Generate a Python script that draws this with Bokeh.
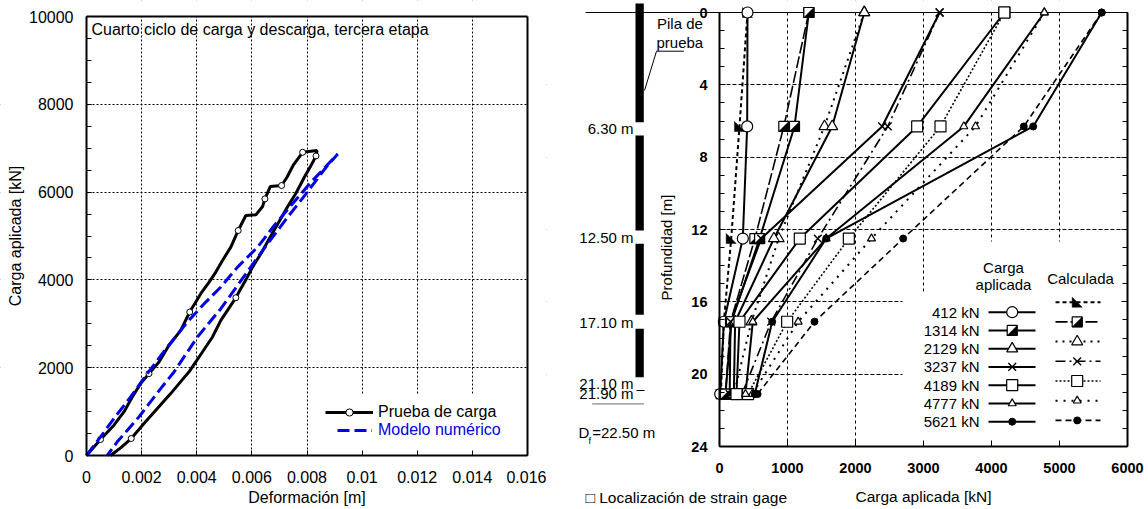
import math
from bokeh.plotting import figure
from bokeh.layouts import row
from bokeh.models import (Range1d, LinearAxis, FixedTicker, Grid, Legend, LegendItem,
                          NumeralTickFormatter)
from bokeh.core.properties import value
from bokeh.embed import file_html
from bokeh.resources import INLINE

FONT = "Liberation Sans"

# ---------------- left panel data ----------------
prueba_def = [0, 0.000509, 0.000994, 0.001358, 0.001661, 0.001964, 0.002267, 0.00263, 0.002994, 0.003418,
              0.003745, 0.004145, 0.004448, 0.004691, 0.004933, 0.005236, 0.005503, 0.005782, 0.006145,
              0.006388, 0.006473, 0.006667, 0.007079, 0.007273, 0.007515, 0.007842, 0.008364, 0.008327,
              0.008145, 0.007903, 0.0076, 0.007321, 0.006994, 0.00663, 0.006327, 0.006024, 0.005782,
              0.005576, 0.005418, 0.005115, 0.004873, 0.00457, 0.004206, 0.003842, 0.003745, 0.003479,
              0.003055, 0.00257, 0.002085, 0.001624, 0.001236, 0.000933, 0.000873]
prueba_carga = [0, 364, 690, 993, 1334, 1638, 1865, 2131, 2510, 2851,
                3268, 3685, 3950, 4178, 4443, 4746, 5125, 5467, 5482,
                5671, 5846, 6126, 6149, 6339, 6627, 6907, 6945, 6824,
                6604, 6339, 5975, 5694, 5338, 4936, 4595, 4291, 4003,
                3776, 3594, 3306, 3078, 2699, 2358, 2017, 1926, 1729,
                1410, 1069, 728, 387, 174, 30, 0]
prueba_marker_idx = [1, 6, 10, 16, 20, 22, 25, 27, 38, 49]

modelo_def = [0, 0.000509, 0.000994, 0.0016, 0.002206, 0.002933, 0.003661, 0.004327, 0.004873,
              0.005479, 0.006206, 0.006812, 0.007418, 0.008145, 0.009115,
              0.008691, 0.008327, 0.007964, 0.007297, 0.00657, 0.005782, 0.004873, 0.004024,
              0.003176, 0.002691, 0.001903, 0.001539, 0.001115, 0.000752]
modelo_carga = [0, 425, 842, 1334, 1865, 2472, 3040, 3495, 3837,
                4291, 4746, 5239, 5694, 6225, 6869,
                6566, 6263, 5959, 5429, 4822, 4140, 3344, 2699,
                1903, 1524, 880, 614, 311, 0]

left_x_ticks = [0, 0.002, 0.004, 0.006, 0.008, 0.01, 0.012, 0.014, 0.016]
left_y_ticks = [0, 2000, 4000, 6000, 8000, 10000]

# ---------------- right panel data ----------------
depths = [0, 6.3, 12.5, 17.1, 21.1]
load_labels = ["412 kN", "1314 kN", "2129 kN", "3237 kN", "4189 kN", "4777 kN", "5621 kN"]
meas_412 = [412, 407, 343, 64, 10]
meas_1314 = [1314, 1103, 590, 176, 88]
meas_2129 = [2129, 1657, 800, 230, 211]
meas_3237 = [3237, 2392, 613, 162, 150]
meas_4189 = [4189, 2907, 1181, 294, 250]
meas_4777 = [4777, 3593, 1569, 490, 382]
meas_5621 = [5621, 4613, 1569, 775, 519]
calc_412 = [412, 294, 172, 64, 20]
calc_1314 = [1314, 946, 520, 162, 88]
calc_2129 = [2129, 1544, 870, 470, 211]
calc_3237 = [3237, 2475, 1446, 760, 330]
calc_4189 = [4189, 3250, 1902, 995, 420]
calc_4777 = [4777, 3765, 2235, 1157, 480]
calc_5621 = [5621, 4475, 2701, 1397, 560]
measured = [meas_412, meas_1314, meas_2129, meas_3237, meas_4189, meas_4777, meas_5621]
calculated = [calc_412, calc_1314, calc_2129, calc_3237, calc_4189, calc_4777, calc_5621]

right_x_ticks = [0, 1000, 2000, 3000, 4000, 5000, 6000]
right_y_ticks = [0, 4, 8, 12, 16, 20, 24]

gauge_labels = ["6.30 m", "12.50 m", "17.10 m", "21.10 m", "21.90 m"]

# ---------------- styles ----------------
meas_kind = ["circle", "half", "tri", "x", "square", "tri_s", "dot"]
calc_kind = ["lowtri", "half", "tri", "x", "square", "tri_s", "dot"]
calc_dash = ["4 3", "12 3", "2 5", "10 4 2 4", "2 2", "2 6", "6 4"]
calc_width = [2, 1.6, 2, 1.6, 1.6, 2, 1.6]

CANVAS_H = 509
LEFT_W = 546
RIGHT_W = 1148 - LEFT_W

# ======================= LEFT FIGURE (frame = whole canvas) =======================
L_PXX = 441 / 0.016          # px per metre of deformation
L_PXY = 439 / 10000.0        # px per kN
L_X0 = 86                    # px of x = 0
L_Y0 = 455                   # px of y = 0


def lx(px):
    return (px - L_X0) / L_PXX


def ly(py):
    return (L_Y0 - py) / L_PXY


l_xlo, l_xhi = lx(0), lx(LEFT_W)
l_ylo, l_yhi = ly(CANVAS_H), ly(0)

pl = figure(width=LEFT_W, height=CANVAS_H, x_range=Range1d(l_xlo, l_xhi), y_range=Range1d(l_ylo, l_yhi),
            output_backend="svg", toolbar_location=None, x_axis_type=None, y_axis_type=None,
            min_border_left=0, min_border_right=0, min_border_top=0, min_border_bottom=0)
pl.outline_line_color = None

lxa = LinearAxis(ticker=FixedTicker(ticks=left_x_ticks),
                 formatter=NumeralTickFormatter(format="0.[000]"),
                 axis_label="Deformación [m]", fixed_location=0, bounds=(0, 0.016))
lya = LinearAxis(ticker=FixedTicker(ticks=left_y_ticks, minor_ticks=list(range(0, 10001, 500))),
                 axis_label="Carga aplicada [kN]", bounds=(0, 10000), fixed_location=0)
lya2 = LinearAxis(ticker=FixedTicker(ticks=[]), bounds=(0, 10000), fixed_location=0.016)
lxa2 = LinearAxis(ticker=FixedTicker(ticks=[]), bounds=(0, 0.016), fixed_location=10000)
for ax in (lxa, lya, lya2, lxa2):
    ax.axis_line_width = 2
    ax.major_tick_in = 5
    ax.major_tick_out = 0
    ax.minor_tick_in = 5
    ax.minor_tick_out = 0
    ax.major_label_text_font = FONT
    ax.major_label_text_font_size = "16px"
    ax.major_label_text_color = "black"
    ax.axis_label_text_font = FONT
    ax.axis_label_text_font_size = "16px"
    ax.axis_label_text_font_style = "normal"
    ax.axis_label_text_color = "black"
for ax in (lya2, lxa2):
    ax.major_label_text_color = None
    ax.major_label_standoff = 0
lxa.major_label_standoff = 15
lxa.axis_label_standoff = 3
lya.major_label_standoff = 13
lya.axis_label_standoff = 2
pl.add_layout(lxa, "below")
pl.add_layout(lya, "left")
pl.add_layout(lya2, "right")
pl.add_layout(lxa2, "above")

pl.add_layout(Grid(dimension=0, ticker=FixedTicker(ticks=left_x_ticks[1:-1]),
                   grid_line_color="black", grid_line_dash="2 2", grid_line_width=1))
pl.add_layout(Grid(dimension=1, ticker=FixedTicker(ticks=left_y_ticks[1:-1]),
                   grid_line_color="black", grid_line_dash="2 2", grid_line_width=1))

# white covers outside the 0..0.016 x 0..10000 box, and behind the legend
pl.quad(left=[l_xlo, 0.016, 0, 0, 0.0086], right=[0, l_xhi, 0.016, 0.016, 0.01594],
        bottom=[l_ylo, l_ylo, 10000, l_ylo, 0], top=[l_yhi, l_yhi, l_yhi, 0, 1400],
        fill_color="white", line_color=None)

r_black = pl.line(prueba_def, prueba_carga, line_color="black", line_width=3)
r_mk = pl.scatter([prueba_def[i] for i in prueba_marker_idx], [prueba_carga[i] for i in prueba_marker_idx],
                  marker="circle", size=6, fill_color="white", line_color="black", line_width=1)
r_blue = pl.line(modelo_def, modelo_carga, line_color="#0000e6", line_width=3, line_dash="12 5")

lg1 = Legend(items=[LegendItem(label="Prueba de carga", renderers=[r_black, r_mk])],
             location=(325, CANVAS_H - 420.7), glyph_width=48, glyph_height=18, label_height=18,
             label_standoff=5, padding=0, margin=0, spacing=0,
             border_line_alpha=0, background_fill_alpha=0,
             label_text_font=FONT, label_text_font_size="16px", label_text_color="black")
lg2 = Legend(items=[LegendItem(label="Modelo numérico", renderers=[r_blue])],
             location=(337, CANVAS_H - 439.3), glyph_width=35, glyph_height=18, label_height=18,
             label_standoff=6, padding=0, margin=0, spacing=0,
             border_line_alpha=0, background_fill_alpha=0,
             label_text_font=FONT, label_text_font_size="16px", label_text_color="#0000e6")
pl.add_layout(lg1)
pl.add_layout(lg2)

pl.text(x=[lx(91)], y=[ly(29)],
        text=["Cuarto ciclo de carga y descarga, tercera etapa"],
        text_font=value(FONT), text_font_size="16px", text_baseline="middle", text_align="left",
        text_color="black")

# ======================= RIGHT FIGURE (frame = whole canvas) =======================
PX_PER_KN = (1127 - 719) / 6000.0
PX_PER_M = (446 - 12) / 24.0
X0_PX = 719
Y0_PX = 12


def dx(px):
    return (px - X0_PX) / PX_PER_KN


def dy(py):
    return (py - Y0_PX) / PX_PER_M


x_lo, x_hi = dx(LEFT_W), dx(1148)
y_top, y_bot = dy(0), dy(CANVAS_H)
pr = figure(width=RIGHT_W, height=CANVAS_H, x_range=Range1d(x_lo, x_hi), y_range=Range1d(y_bot, y_top),
            output_backend="svg", toolbar_location=None, x_axis_type=None, y_axis_type=None,
            min_border_left=0, min_border_right=0, min_border_top=0, min_border_bottom=0)
pr.outline_line_color = None

rxa = LinearAxis(ticker=FixedTicker(ticks=right_x_ticks), bounds=(0, 6000), fixed_location=24,
                 axis_label="Carga aplicada [kN]")
rya = LinearAxis(ticker=FixedTicker(ticks=right_y_ticks, minor_ticks=list(range(25))),
                 bounds=(0, 24), fixed_location=0)
rya2 = LinearAxis(ticker=FixedTicker(ticks=right_y_ticks, minor_ticks=list(range(25))),
                  bounds=(0, 24), fixed_location=6000)
for ax in (rxa, rya, rya2):
    ax.axis_line_width = 2
    ax.major_tick_in = 6
    ax.major_tick_out = 0
    ax.minor_tick_in = 5
    ax.minor_tick_out = 0
    ax.major_label_text_font = FONT
    ax.major_label_text_font_size = "14.5px"
    ax.major_label_text_font_style = "bold"
    ax.major_label_text_color = "black"
    ax.axis_label_text_font = FONT
    ax.axis_label_text_font_size = "15.5px"
    ax.axis_label_text_font_style = "normal"
    ax.axis_label_text_color = "black"
rxa.minor_tick_in = 0
rxa.major_label_standoff = 16
rxa.axis_label_standoff = 12
rya.major_label_standoff = 12
rya2.major_label_text_color = None
rya2.major_label_standoff = 0
pr.add_layout(rxa, "below")
pr.add_layout(rya, "left")
pr.add_layout(rya2, "right")

pr.add_layout(Grid(dimension=0, ticker=FixedTicker(ticks=right_x_ticks[1:-1]),
                   grid_line_color="black", grid_line_dash="3 3", grid_line_width=1))
pr.add_layout(Grid(dimension=1, ticker=FixedTicker(ticks=right_y_ticks[1:-1]),
                   grid_line_color="black", grid_line_dash="4 2", grid_line_width=1))

# white covers: pile area, margins around the box, legend boxes
pr.quad(left=[x_lo, 6000, 0, 0, dx(902), dx(924)], right=[0, x_hi, 6000, 6000, 5990, 5990],
        top=[y_top, y_top, y_top, 24, dy(291), dy(241)], bottom=[y_bot, y_bot, 0, y_bot, 23.95, 23.95],
        fill_color="white", line_color=None)

# ground line
pr.line([dx(585), 6000], [0, 0], line_color="black", line_width=1.2)

# pile schematic
pr.quad(left=dx(635), right=dx(643.3), top=[dy(3), dy(135), dy(243.3), dy(328.3)],
        bottom=[dy(121.7), dy(230), dy(314.3), dy(376.7)], fill_color="black", line_color=None)
pr.line([dx(636), dx(644)], [dy(390), dy(390)], line_color="black", line_width=1)
pr.line([dx(591.7), dx(643.3)], [dy(403.3), dy(403.3)], line_color="#888888", line_width=1.2)
pr.line([dx(683.3), dx(656), dx(644)], [dy(50.7), dy(50.7), dy(90)], line_color="black", line_width=1)

pr.text(x=[dx(633)] * 5, y=[dy(128.3), dy(237.3), dy(321.7), dy(383.3), dy(393.3)], text=gauge_labels,
        text_font=value(FONT), text_font_size="15px", text_align="right", text_baseline="middle",
        text_color="black")
pr.text(x=[dx(578)], y=[dy(431.7)], text=["D"], text_font=value(FONT), text_font_size="15px",
        text_align="left", text_baseline="middle", text_color="black")
pr.text(x=[dx(588)], y=[dy(440)], text=["f"], text_font=value(FONT), text_font_size="9px",
        text_align="left", text_baseline="middle", text_color="black")
pr.text(x=[dx(591.7)], y=[dy(431.7)], text=["=22.50 m"], text_font=value(FONT), text_font_size="15px",
        text_align="left", text_baseline="middle", text_color="black")
pr.text(x=[dx(656.5), dx(656)], y=[dy(23.3), dy(41.7)], text=["Pila de", "prueba"],
        text_font=value(FONT), text_font_size="15px", text_align="left", text_baseline="middle",
        text_color="black")
pr.text(x=[dx(666)], y=[dy(247)], text=["Profundidad [m]"], angle=math.pi / 2,
        text_font=value(FONT), text_font_size="15px", text_align="center", text_baseline="middle",
        text_color="black")
pr.text(x=[dx(585)], y=[dy(496.7)], text=["\u25A1 Localización de strain gage"],
        text_font=value(FONT), text_font_size="15.5px", text_align="left", text_baseline="middle",
        text_color="black")

HX = 5 / PX_PER_KN   # half marker width in data units
HY = 5 / PX_PER_M    # half marker height in data units


def put_marker(p, xs, ys, kind):
    if kind == "circle":
        p.scatter(xs, ys, marker="circle", size=11, fill_color="white", line_color="black", line_width=1.2)
    elif kind == "tri":
        p.scatter(xs, ys, marker="triangle", size=11, fill_color="white", line_color="black", line_width=1.2)
    elif kind == "tri_s":
        p.scatter(xs, ys, marker="triangle", size=8, fill_color="white", line_color="black", line_width=1.2)
    elif kind == "x":
        p.scatter(xs, ys, marker="x", size=11, line_color="black", line_width=1.4)
    elif kind == "square":
        p.scatter(xs, ys, marker="square", size=11, fill_color="white", line_color="black", line_width=1.2)
    elif kind == "dot":
        p.scatter(xs, ys, marker="circle", size=7, fill_color="black", line_color="black")
    elif kind == "half":
        p.scatter(xs, ys, marker="square", size=10, fill_color="white", line_color="black", line_width=1.2)
        p.patches(xs=[[x + HX, x + HX, x - HX] for x in xs], ys=[[y - HY, y + HY, y + HY] for y in ys],
                  fill_color="black", line_color="black", line_width=0.5)
    elif kind == "lowtri":
        p.patches(xs=[[x - HX, x - HX, x + HX] for x in xs], ys=[[y - HY, y + HY, y + HY] for y in ys],
                  fill_color="black", line_color="black", line_width=0.5)


# series lines
for i in range(7):
    pr.line(calculated[i], depths, line_color="black", line_width=calc_width[i], line_dash=calc_dash[i])
for i in range(7):
    pr.line(measured[i], depths, line_color="black", line_width=2)
for i in range(7):
    put_marker(pr, calculated[i], depths, calc_kind[i])
    put_marker(pr, measured[i], depths, meas_kind[i])

# legend (two columns)
meas_row_y = [dy(311.7 + k * 18.25) for k in range(7)]
calc_row_y = [dy(301.7 + k * 19.7) for k in range(7)]
pr.text(x=[dx(979)] * 7, y=meas_row_y, text=load_labels, text_font=value(FONT), text_font_size="15px",
        text_align="right", text_baseline="middle", text_color="black")
pr.text(x=[dx(1003), dx(1003), dx(1080)], y=[dy(267.3), dy(284.3), dy(277.7)],
        text=["Carga", "aplicada", "Calculada"], text_font=value(FONT), text_font_size="15px",
        text_align="center", text_baseline="middle", text_color="black")
for k in range(7):
    yk = meas_row_y[k]
    pr.line([dx(988), dx(1035)], [yk, yk], line_color="black", line_width=2)
    put_marker(pr, [dx(1011.7)], [yk], meas_kind[k])
    yc = calc_row_y[k]
    pr.line([dx(1055), dx(1100)], [yc, yc], line_color="black", line_width=calc_width[k],
            line_dash=calc_dash[k])
    put_marker(pr, [dx(1076.7)], [yc], calc_kind[k])

layout = row(pl, pr)
open("out.html", "w").write(file_html(layout, INLINE))
